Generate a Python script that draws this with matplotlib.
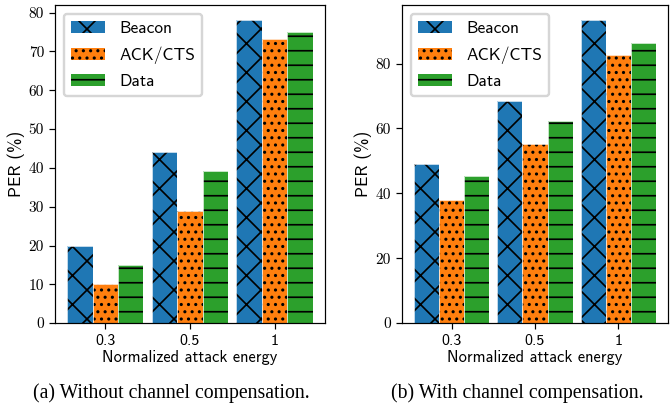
import matplotlib
matplotlib.use("Agg")
from matplotlib import pyplot as plt
import numpy as np

energies = ["0.3", "0.5", "1"]
series = ["Beacon", "ACK/CTS", "Data"]

# PER (%) without channel compensation
per_without = {
    "Beacon": [20.0, 44.2, 78.1],
    "ACK/CTS": [10.0, 29.0, 73.1],
    "Data": [15.0, 39.1, 75.0],
}
# PER (%) with channel compensation
per_with = {
    "Beacon": [49.0, 68.4, 93.4],
    "ACK/CTS": [38.0, 55.2, 82.5],
    "Data": [45.2, 62.2, 86.3],
}

colors = ["#1f77b4", "#ff7f0e", "#2ca02c"]
hatches = ["xx", "....", "--"]

plt.rcParams["hatch.linewidth"] = 0.7
plt.rcParams["axes.unicode_minus"] = False

DPI = 174
fig = plt.figure(figsize=(670 / DPI, 409 / DPI), dpi=DPI)
ax1 = fig.add_axes([0.082, 0.210, 0.403, 0.778])
ax2 = fig.add_axes([0.600, 0.210, 0.397, 0.778])

width = 0.3
x = np.arange(len(energies))


def draw(ax, data, yticks):
    for i, name in enumerate(series):
        pos = x + (i - 1) * width
        ax.bar(pos, data[name], width=width, color=colors[i], edgecolor="black",
               linewidth=0, hatch=hatches[i], label=name)
        ax.bar(pos, data[name], width=width, fill=False, edgecolor="white",
               linewidth=0.3)
    ax.set_xticks(x)
    ax.set_xticklabels(energies, family="cmss10", fontsize=6.6)
    ax.set_yticks(yticks)
    ax.set_yticklabels([str(t) for t in yticks], family="cmr10", fontsize=6.4)
    ax.tick_params(length=2.5, width=0.5, pad=2)
    for s in ax.spines.values():
        s.set_linewidth(0.5)
    ax.set_xlabel("Normalized attack energy", family="cmss10", fontsize=6.8, labelpad=1)
    ax.set_ylabel("PER (%)", family="cmss10", fontsize=7.2, labelpad=1.5)
    ax.legend(loc="upper left", prop={"family": "cmss10", "size": 7.2},
              labelspacing=0.6, frameon=True, fancybox=True, framealpha=0.8,
              edgecolor="0.8")


draw(ax1, per_without, list(range(0, 81, 10)))
draw(ax2, per_with, list(range(0, 81, 20)))

fig.text(0.255, 0.039, "(a) Without channel compensation.", ha="center", va="center",
         family="Liberation Serif", fontsize=8.2)
fig.text(0.772, 0.039, "(b) With channel compensation.", ha="center", va="center",
         family="Liberation Serif", fontsize=8.2)

fig.savefig("out.png", dpi=DPI)
